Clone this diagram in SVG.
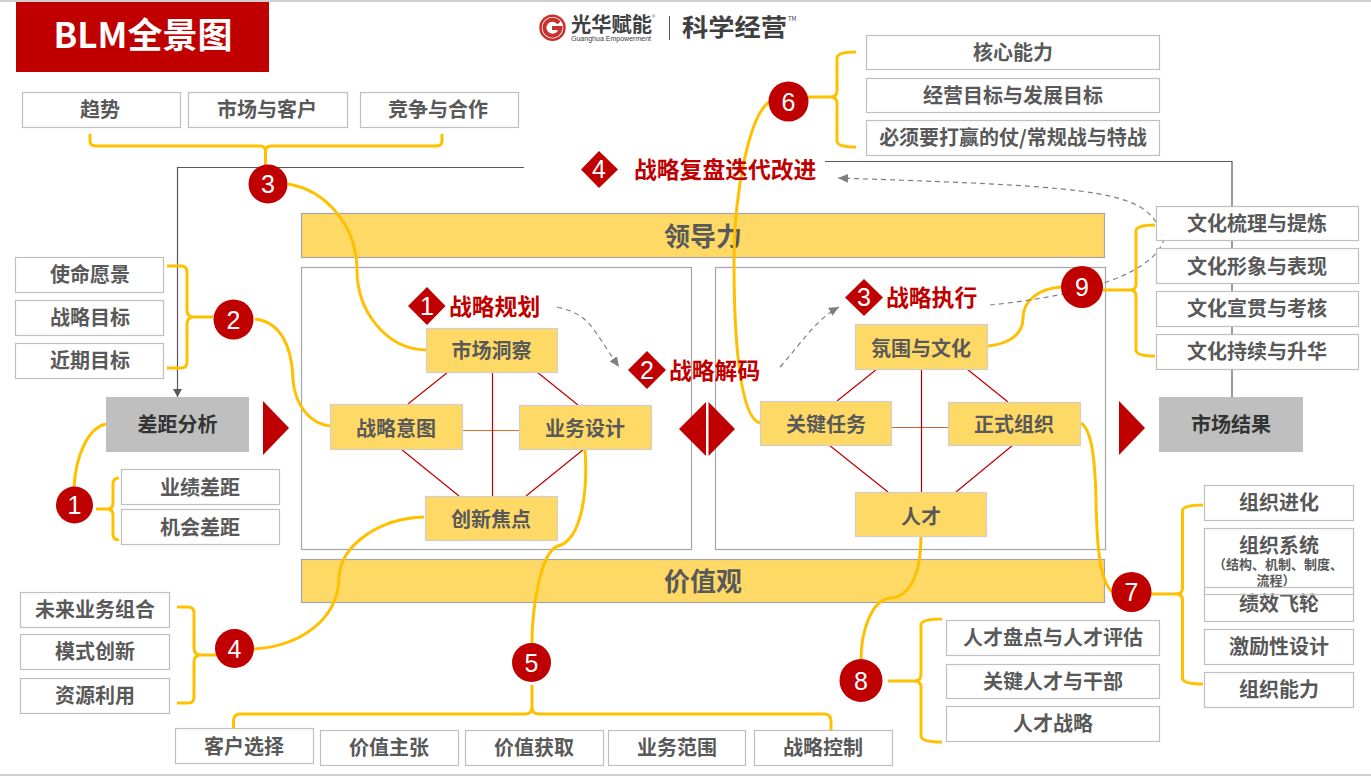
<svg xmlns="http://www.w3.org/2000/svg" width="1371" height="776" viewBox="0 0 1371 776">
<style>
text{font-family:"Noto Sans CJK SC","Liberation Sans",sans-serif;text-anchor:middle}
.b{fill:#fff;stroke:#bfbfbf;stroke-width:1.2;transform:translate(.5px,.5px)}
.o{fill:none}
.y{fill:#ffd966;stroke:#d0cece;stroke-width:1.2;transform:translate(.5px,.5px)}
.t{font-size:20px;font-weight:700;fill:#595959}
.big{font-size:26px;font-weight:700;fill:#595959}
.dk{fill:#333}
.s{font-size:13px;font-weight:700;fill:#595959;text-spacing-trim:space-all}
.r{font-size:22.800px;font-weight:700;fill:#c00000;text-anchor:start}
.n{font-size:25px;fill:#fff;font-family:"Liberation Sans",sans-serif}
.c{fill:#c00000}
.g{fill:none;stroke:#ffc000;stroke-width:3}
.k{fill:none;stroke:#595959;stroke-width:1.2}
.l{stroke:#c00000;stroke-width:1.2;fill:none}
.d{fill:none;stroke:#7f7f7f;stroke-width:1.2;stroke-dasharray:5 4}
.panel{fill:none;stroke:#a6a6a6;stroke-width:1.2;transform:translate(-.5px,.5px)}
.bar{fill:#ffd966;stroke:#a6a6a6;stroke-width:1.2;transform:translate(-.5px,.5px)}
.st{text-anchor:start}
</style>
<defs>
<marker id="a" markerWidth="12" markerHeight="10" refX="10" refY="4.500" orient="auto" markerUnits="userSpaceOnUse"><path d="M0 0L10 4.500L0 9Z" fill="#7f7f7f"/></marker>
<marker id="k" markerWidth="10" markerHeight="10" refX="8" refY="4.500" orient="auto" markerUnits="userSpaceOnUse"><path d="M0 0L8 4.500L0 9Z" fill="#595959"/></marker>
</defs>
<rect x="0" y="0" width="1371" height="2" fill="#d0d0d0"/>
<rect x="0" y="774" width="1371" height="2" fill="#d0d0d0"/>
<g id="title"><rect x="16" y="2" width="253" height="70" class="c"/><text x="143" y="48" font-size="35" font-weight="700" fill="#fff">BLM全景图</text></g>
<g id="logo">
<circle cx="552.500" cy="27.700" r="12" fill="none" stroke="#c8322d" stroke-width="2.500"/>
<path d="M559 23A8 8 0 1 0 560.500 28H552" fill="none" stroke="#c8322d" stroke-width="4"/>
<text class="st" x="571" y="32" font-size="20" font-weight="700" fill="#404040" textLength="81" lengthAdjust="spacingAndGlyphs">光华赋能</text>
<text class="st" x="571" y="41" font-size="7" fill="#404040" textLength="80" lengthAdjust="spacingAndGlyphs" style="font-family:'Liberation Sans',sans-serif">Guanghua Empowerment</text>
<text class="st" x="652" y="20" font-size="7" fill="#808080">®</text>
<line x1="669.500" y1="16" x2="669.500" y2="40" stroke="#595959" stroke-width="1"/>
<text class="st" x="682" y="36" font-size="24" font-weight="700" fill="#404040" textLength="105" lengthAdjust="spacingAndGlyphs">科学经营</text>
<text class="st" x="788" y="21" font-size="6" fill="#404040">TM</text>
</g>

<g id="panels">
<rect class="bar" x="302" y="213" width="803" height="44"/><text class="big" x="703" y="246">领导力</text>
<rect class="panel" x="302" y="267" width="390" height="282"/>
<rect class="panel" x="716" y="267" width="390" height="282"/>
<rect class="bar" x="302" y="559" width="803" height="43"/><text class="big" x="703" y="591">价值观</text>
</g>

<g id="connectors">
<path class="k" d="M524 167.500H177.500V397" marker-end="url(#k)"/>
<path class="k" d="M825 161.500H1232V397"/>
<path class="l" d="M448 372L408 404M537 372L578 405M401 449L459 496M584 449L526 496"/>
<line x1="463" y1="430.500" x2="519" y2="430.500" stroke="#e46c2e" stroke-width="1.200"/>
<line x1="492.500" y1="372" x2="492.500" y2="496" stroke="#c00000" stroke-width="1.200"/>
<path class="l" d="M877 369L837 401M967 369L1008 402M829 445L888 492M1013 445L956 492"/>
<line x1="892" y1="427.500" x2="948" y2="427.500" stroke="#c8623a" stroke-width="1.200"/>
<line x1="921.500" y1="369" x2="921.500" y2="492" stroke="#a00000" stroke-width="1.200"/>
<path class="g" d="M90 134V141Q90 146 96 146H260Q265.500 146 265.500 151V165M442 134V141Q442 146 436 146H271Q265.500 146 265.500 151"/>
<path class="g" d="M288 184C325 190 357 225 357 270C357 310 385 349 426 350"/>
<path class="g" d="M167 266H181Q187 266 187 272V310Q187 317 194 317H213M167 368H181Q187 368 187 362V324Q187 317 194 317"/>
<path class="g" d="M255 319C280 322 292 345 293 380C295 405 310 424 330 426"/>
<path class="g" d="M106 424C88 428 76 455 74 487"/>
<path class="g" d="M96 509H107Q113 509 113 503V484Q113 478 119 478M107 509Q113 509 113 515V534Q113 540 119 540"/>
<path class="g" d="M177 607H188Q194 607 194 613V648Q194 655 201 655H216M177 703H188Q194 703 194 697V662Q194 655 201 655"/>
<path class="g" d="M254 649C300 646 338 620 339 578C340 545 380 518 424 517"/>
<path class="g" d="M585 449C588 490 582 540 558 546C540 552 532 610 532 644"/>
<path class="g" d="M532 685V707Q532 714 525 714H240Q233.500 714 233.500 721V730M532 707Q532 714 539 714H824Q831 714 831 721V730"/>
<path class="g" d="M769 102C750 115 734 190 734 262C734 340 740 418 760 423"/>
<path class="g" d="M808 97H830Q837 97 837 91V58Q837 52 856 52M830 97Q837 97 837 103V141Q837 147 856 147"/>
<path class="g" d="M1081 423C1092 430 1095 460 1096 500C1097 550 1100 580 1112 592"/>
<path class="g" d="M1151 594H1176Q1182.500 594 1182.500 588V511Q1182.500 505 1203 505M1176 594Q1182.500 594 1182.500 600V678Q1182.500 684 1203 684"/>
<path class="g" d="M921 537C921 570 912 597 890 598C872 600 861 630 861 660"/>
<path class="g" d="M888 681H914Q921 681 921 675V625Q921 619 942 619M914 681Q921 681 921 687V736Q921 742 942 742"/>
<path class="g" d="M988 346C1008 344 1023 335 1023 318C1023 300 1040 288 1062 287"/>
<path class="g" d="M1103 290H1130Q1136 290 1136 284V231Q1136 225 1155 225M1130 290Q1136 290 1136 296V350Q1136 356 1155 356"/>
<path class="d" d="M557 307C590 315 590 325 619 367" marker-end="url(#a)"/>
<path class="d" d="M780 367C800 345 815 320 839 307" marker-end="url(#a)"/>
<path class="d" d="M1156 222C1135 190 1080 186 838 178" marker-end="url(#a)"/>
<path class="d" d="M990 305C1060 298 1150 280 1164 240"/>
</g>

<g id="n-trend"><rect class="b" x="22" y="92" width="158" height="35"/><text class="t" x="100" y="117">趋势</text></g>
<g id="n-market"><rect class="b" x="188" y="92" width="159" height="35"/><text class="t" x="267" y="117">市场与客户</text></g>
<g id="n-compete"><rect class="b" x="360" y="92" width="158" height="35"/><text class="t" x="438" y="117">竞争与合作</text></g>
<g id="n-mission"><rect class="b" x="15" y="257" width="148" height="35"/><text class="t" x="90" y="282">使命愿景</text></g>
<g id="n-goal"><rect class="b" x="15" y="300" width="148" height="35"/><text class="t" x="90" y="325">战略目标</text></g>
<g id="n-near"><rect class="b" x="15" y="343" width="148" height="35"/><text class="t" x="90" y="368">近期目标</text></g>
<g id="n-gap"><rect x="106" y="397" width="143" height="55" fill="#bfbfbf"/><text class="t dk" x="177.500" y="432">差距分析</text></g>
<path class="c" d="M263 401L289 428L263 455Z"/>
<g id="n-perf"><rect class="b" x="121" y="469" width="158" height="35"/><text class="t" x="200" y="495">业绩差距</text></g>
<g id="n-opp"><rect class="b" x="121" y="509" width="158" height="35"/><text class="t" x="200" y="535">机会差距</text></g>
<g id="n-future"><rect class="b" x="20" y="592" width="149" height="35"/><text class="t" x="95" y="617">未来业务组合</text></g>
<g id="n-mode"><rect class="b" x="20" y="634" width="149" height="35"/><text class="t" x="95" y="659">模式创新</text></g>
<g id="n-res"><rect class="b" x="20" y="678" width="149" height="35"/><text class="t" x="95" y="703">资源利用</text></g>
<g id="n-cust"><rect class="b" x="175" y="728" width="138" height="35"/><text class="t" x="244" y="754">客户选择</text></g>
<g id="n-val"><rect class="b" x="320" y="730" width="138" height="35"/><text class="t" x="389" y="755">价值主张</text></g>
<g id="n-cap"><rect class="b" x="465" y="730" width="138" height="35"/><text class="t" x="534" y="755">价值获取</text></g>
<g id="n-scope"><rect class="b" x="608" y="730" width="137" height="35"/><text class="t" x="677" y="755">业务范围</text></g>
<g id="n-ctrl"><rect class="b" x="754" y="730" width="138" height="35"/><text class="t" x="823" y="755">战略控制</text></g>

<g id="n-core"><rect class="b" x="866" y="35" width="293" height="34"/><text class="t" x="1013" y="60">核心能力</text></g>
<g id="n-biz"><rect class="b" x="866" y="78" width="293" height="34"/><text class="t" x="1013" y="103">经营目标与发展目标</text></g>
<g id="n-must"><rect class="b" x="866" y="120" width="293" height="35"/><text class="t" x="1013" y="145">必须要打赢的仗/常规战与特战</text></g>

<g id="n-mi"><rect class="y" x="426" y="328" width="131" height="44"/><text class="t" x="491.500" y="358">市场洞察</text></g>
<g id="n-si"><rect class="y" x="330" y="404" width="132" height="45"/><text class="t" x="396" y="436">战略意图</text></g>
<g id="n-bd"><rect class="y" x="519" y="405" width="132" height="44"/><text class="t" x="585" y="436">业务设计</text></g>
<g id="n-if"><rect class="y" x="425" y="496" width="132" height="44"/><text class="t" x="491" y="527">创新焦点</text></g>
<g id="n-cc"><rect class="y" x="855" y="324" width="132" height="45"/><text class="t" x="921" y="356">氛围与文化</text></g>
<g id="n-kt"><rect class="y" x="760" y="401" width="131" height="44"/><text class="t" x="826" y="432">关键任务</text></g>
<g id="n-fo"><rect class="y" x="948" y="402" width="132" height="43"/><text class="t" x="1014" y="432">正式组织</text></g>
<g id="n-tal"><rect class="y" x="855" y="492" width="131" height="44"/><text class="t" x="921" y="524">人才</text></g>

<g id="n-result"><rect x="1159" y="397" width="144" height="55" fill="#bfbfbf"/><text class="t dk" x="1231" y="432">市场结果</text></g>
<path class="c" d="M1119 401L1145 428L1119 455Z"/>
<g id="n-diamond"><path class="c" d="M706 402V456L679 429Z"/><path class="c" d="M708.500 402V456L735 429Z"/></g>

<g id="n-c1"><rect class="b" x="1156" y="206" width="202" height="34"/><text class="t" x="1257" y="231">文化梳理与提炼</text></g>
<g id="n-c2"><rect class="b" x="1156" y="248" width="202" height="35"/><text class="t" x="1257" y="274">文化形象与表现</text></g>
<g id="n-c3"><rect class="b" x="1156" y="291" width="202" height="35"/><text class="t" x="1257" y="316">文化宣贯与考核</text></g>
<g id="n-c4"><rect class="b" x="1156" y="334" width="202" height="35"/><text class="t" x="1257" y="359">文化持续与升华</text></g>

<g id="n-o1"><rect class="b" x="1204" y="485" width="149" height="35"/><text class="t" x="1279" y="510">组织进化</text></g>
<g id="n-o3"><rect class="b" x="1204" y="587" width="149" height="34"/><text class="t" x="1279" y="611">绩效飞轮</text></g>
<g id="n-o2"><rect class="b o" x="1204" y="528" width="149" height="66"/><text class="t" x="1279" y="553">组织系统</text><text class="s" x="1278" y="569">（结构、机制、制度、</text><text class="s" x="1276" y="585">流程）</text></g>
<g id="n-o4"><rect class="b" x="1204" y="629" width="149" height="35"/><text class="t" x="1279" y="654">激励性设计</text></g>
<g id="n-o5"><rect class="b" x="1204" y="672" width="149" height="35"/><text class="t" x="1279" y="697">组织能力</text></g>

<g id="n-t1"><rect class="b" x="946" y="620" width="213" height="35"/><text class="t" x="1053" y="645">人才盘点与人才评估</text></g>
<g id="n-t2"><rect class="b" x="946" y="664" width="213" height="34"/><text class="t" x="1053" y="689">关键人才与干部</text></g>
<g id="n-t3"><rect class="b" x="946" y="706" width="213" height="35"/><text class="t" x="1053" y="731">人才战略</text></g>

<g id="m-d1"><path class="c" d="M427 287L445.500 306L427 325L408 306Z"/><text class="n" x="427" y="315">1</text><text class="r" x="449" y="315">战略规划</text></g>
<g id="m-d2"><path class="c" d="M647 351L666 370L647 389L628 370Z"/><text class="n" x="647" y="379">2</text><text class="r" x="669" y="379">战略解码</text></g>
<g id="m-d3"><path class="c" d="M864 279L883 297.500L864 316L845 297.500Z"/><text class="n" x="864" y="306">3</text><text class="r" x="886" y="306">战略执行</text></g>
<g id="m-d4"><path class="c" d="M599 151L618 169.500L599 188L581 169.500Z"/><text class="n" x="599" y="178">4</text><text class="r" x="634" y="178">战略复盘迭代改进</text></g>

<g id="c1"><circle class="c" cx="74.500" cy="505" r="18.500"/><text class="n" x="74.500" y="514">1</text></g>
<g id="c2"><circle class="c" cx="233.500" cy="319.500" r="20"/><text class="n" x="233.500" y="328.500">2</text></g>
<g id="c3"><circle class="c" cx="268" cy="184" r="19.500"/><text class="n" x="268" y="193">3</text></g>
<g id="c4"><circle class="c" cx="234.500" cy="648.500" r="19.500"/><text class="n" x="234.500" y="657.500">4</text></g>
<g id="c5"><circle class="c" cx="531.500" cy="662.500" r="19.500"/><text class="n" x="531.500" y="671.500">5</text></g>
<g id="c6"><circle class="c" cx="788.500" cy="101.500" r="20"/><text class="n" x="788.500" y="110.500">6</text></g>
<g id="c7"><circle class="c" cx="1131.500" cy="592" r="20"/><text class="n" x="1131.500" y="601">7</text></g>
<g id="c8"><circle class="c" cx="861" cy="680.500" r="21.500"/><text class="n" x="861" y="689.500">8</text></g>
<g id="c9"><circle class="c" cx="1082" cy="287" r="21"/><text class="n" x="1082" y="296">9</text></g>
</svg>
